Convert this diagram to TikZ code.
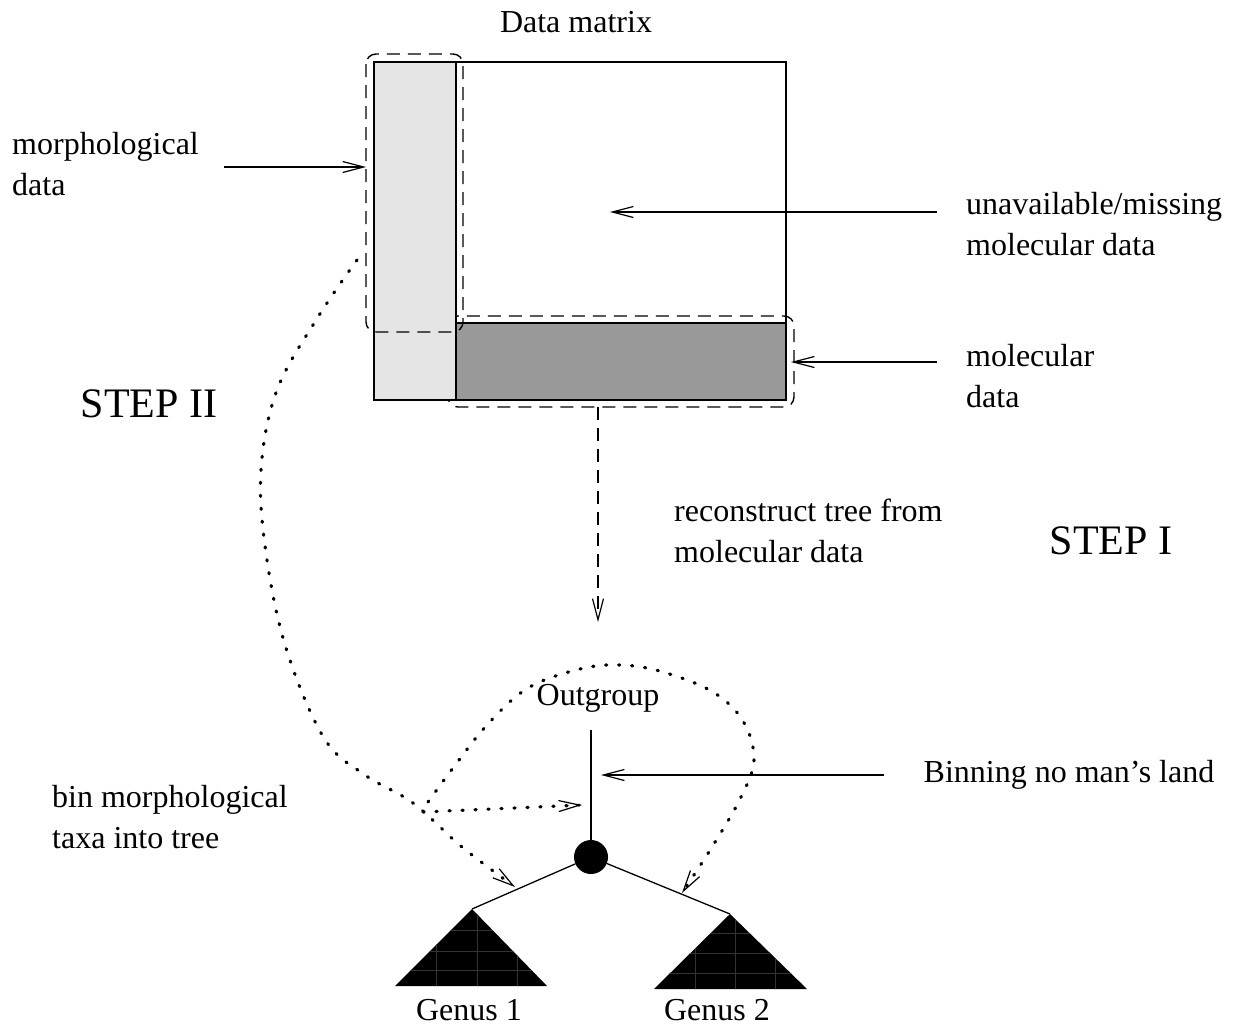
\documentclass[tikz,border=0pt]{standalone}
\usepackage{fontspec}
\setmainfont{Liberation Serif}
\usetikzlibrary{arrows.meta}
\begin{document}
\begin{tikzpicture}[x=1pt,y=-1pt,
  txt/.style={inner sep=0pt, font=\fontsize{32}{41}\selectfont, align=left},
  big/.style={inner sep=0pt, font=\fontsize{42}{50}\selectfont},
  tip/.style={-{Straight Barb[length=21pt,width=11pt,line width=1.2pt]}},
  solidln/.style={line width=1.3pt},
  dashbox/.style={dash pattern=on 13pt off 8pt, line width=1.4pt, rounded corners=10pt},
  dashln/.style={dash pattern=on 13pt off 8pt, line width=1.4pt},
  dotln/.style={dash pattern=on 1.2pt off 11.8pt, line width=3.2pt, line cap=round},
  gridln/.style={line width=0.4pt, draw=black!80},
]
\useasboundingbox (0,0) rectangle (1234,1029);

% ---------- data matrix ----------
\draw[dashbox] (448,316) rectangle (794,407);
\fill[black!10] (374,62) rectangle (456,400);
\fill[black!40] (456,323) rectangle (786,400);
\draw[solidln] (374,62) rectangle (786,400);
\draw[solidln] (456,62) -- (456,400);
\draw[solidln] (456,323) -- (786,323);
\draw[dashbox] (366,54) rectangle (463,332);

\node[txt] (title) at (576,22) {Data matrix};

% coordinates on the matrix
\coordinate (morphend) at (366,167);
\coordinate (missend) at (610,212);
\coordinate (molend) at (791,362);
\coordinate (recstart) at (598,407);
\coordinate (recend) at (598,622);

% ---------- labels ----------
\node[txt, anchor=west] (morph) at (12,164) {morphological\\data};
\node[txt, anchor=west] (miss) at (966,224) {unavailable/missing\\molecular data};
\node[txt, anchor=west] (mol) at (966,376) {molecular\\data};
\node[big] (step2) at (149,404) {STEP II};
\node[big] (step1) at (1111,541) {STEP I};
\node[txt, anchor=west] (rec) at (674,531) {reconstruct tree from\\molecular data};
\node[txt] (outg) at (598,698) {Outgroup};
\node[txt] (binning) at (1069,775) {Binning no man's land};
\node[txt, anchor=west] (binm) at (52,817) {bin morphological\\taxa into tree};
\node[txt] (g1) at (469,1010) {Genus 1};
\node[txt] (g2) at (717,1010) {Genus 2};

% arrow start points
\coordinate (morphstart) at (224,167);
\coordinate (missstart) at (937,212);
\coordinate (molstart) at (937,362);
\coordinate (binstart) at (884,775);
\coordinate (binend) at (601,775);

\draw[solidln,tip] (morphstart) -- (morphend);
\draw[solidln,tip] (missstart) -- (missend);
\draw[solidln,tip] (molstart) -- (molend);
\draw[dashln,tip] (recstart) -- (recend);
\draw[solidln,tip] (binstart) -- (binend);

% ---------- tree ----------
\coordinate (otop) at (591,730);
\node[circle, fill=black, minimum size=34pt, inner sep=0pt] (root) at (591,857) {};
\coordinate (apex1) at (472,909);
\coordinate (apex2) at (730,914);
\draw[solidln] (otop) -- (root);
\draw[solidln] (root) -- (apex1);
\draw[solidln] (root) -- (apex2);

\fill (apex1) -- (547,986) -- (395,986) -- cycle;
\fill (apex2) -- (807,989) -- (654,989) -- cycle;
\begin{scope}
  \clip (apex1) -- (547,986) -- (395,986) -- cycle;
  \foreach \gx in {436,477,517} \draw[gridln] (\gx,900) -- (\gx,990);
  \foreach \gy in {930,951,970} \draw[gridln] (390,\gy) -- (550,\gy);
\end{scope}
\begin{scope}
  \clip (apex2) -- (807,989) -- (654,989) -- cycle;
  \foreach \gx in {695,735,775} \draw[gridln] (\gx,900) -- (\gx,995);
  \foreach \gy in {933,953,973} \draw[gridln] (650,\gy) -- (810,\gy);
\end{scope}

% ---------- dotted binning curves ----------
\coordinate (dstart) at (357,260);
\coordinate (dfork) at (423,812);
\coordinate (dend1) at (515,887);
\coordinate (dend2) at (582,805);
\coordinate (dend3) at (682,893);

\draw[dotln,tip] plot[smooth, tension=0.6] coordinates {(dstart) (318,317) (277,390) (261,470) (266,553) (286,648) (324,738) (365,775) (413,803) (462,847) (dend1)};
\draw[dotln,tip] (dfork) -- (dend2);
\draw[dotln,tip] plot[smooth, tension=0.6] coordinates {(428,802) (453,768) (487,725) (528,688) (580,669) (621,665) (663,672) (713,692) (743,721) (754,760) (740,799) (712,847) (dend3)};
\end{tikzpicture}
\end{document}
